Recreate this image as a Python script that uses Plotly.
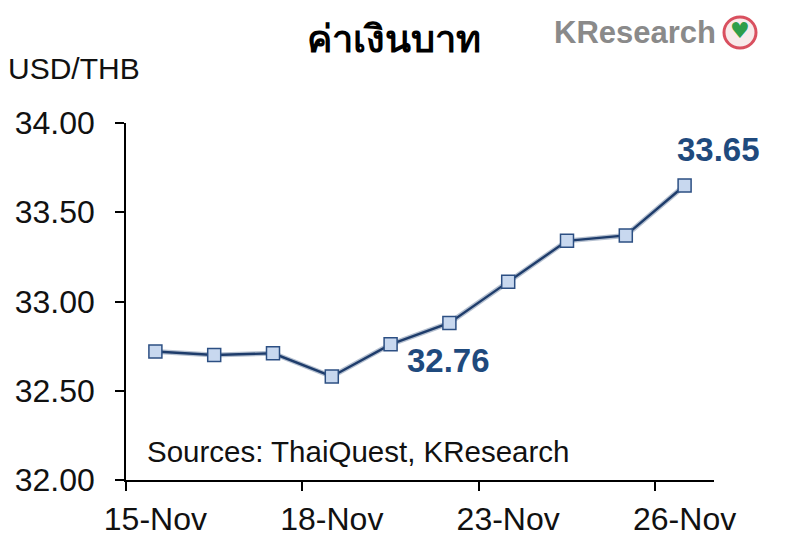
import plotly.graph_objects as go

# ---- data ----
dates = ["15-Nov", "16-Nov", "17-Nov", "18-Nov", "19-Nov",
         "22-Nov", "23-Nov", "24-Nov", "25-Nov", "26-Nov"]
usd_thb = [32.72, 32.70, 32.71, 32.58, 32.76, 32.88, 33.11, 33.34, 33.37, 33.65]
labeled_dates = ["15-Nov", "18-Nov", "23-Nov", "26-Nov"]
callout_dates = ["19-Nov", "26-Nov"]
y_ticks = [32.0, 32.5, 33.0, 33.5, 34.0]

title_text = "ค่าเงินบาท"
unit_text = "USD/THB"
source_text = "Sources: ThaiQuest, KResearch"
logo_text = "KResearch"

NAVY = "#1e3c6b"
FONT = "Liberation Sans, Arial, sans-serif"

x_idx = list(range(len(dates)))
label_idx = [dates.index(d) for d in labeled_dates]


def px(xp):
    return (xp - 126) / 588


def py(yp):
    return 1 + (123 - yp) / 357


fig = go.Figure()
fig.add_trace(go.Scatter(
    x=x_idx, y=usd_thb, mode="lines",
    line=dict(color="rgba(120,140,170,0.55)", width=5),
    hoverinfo="skip", showlegend=False,
))
fig.add_trace(go.Scatter(
    x=x_idx, y=usd_thb, mode="lines+markers",
    line=dict(color=NAVY, width=2.4),
    marker=dict(symbol="square", size=13, color="#c8d8ef",
                line=dict(color="#2c4f83", width=1.5)),
    showlegend=False,
))

shifts = {"19-Nov": (58, -16), "26-Nov": (34, 36)}
for d in callout_dates:
    i = dates.index(d)
    fig.add_annotation(x=i, y=usd_thb[i], text=f"{usd_thb[i]:.2f}",
                       showarrow=False, xshift=shifts[d][0], yshift=shifts[d][1],
                       font=dict(family=FONT, size=33, color="#1f4a7d", weight="bold"))

fig.add_annotation(xref="paper", yref="paper", x=px(145), y=py(451), xanchor="left",
                   yanchor="middle", text=source_text, showarrow=False,
                   font=dict(family=FONT, size=29.5, color="#111111"))

fig.add_annotation(xref="paper", yref="paper", x=px(394), y=py(37),
                   xanchor="center", yanchor="middle", text=f"<b>{title_text}</b>",
                   showarrow=False, font=dict(family="Noto Sans, DejaVu Sans, sans-serif", size=38, color="#000000"))

fig.add_annotation(xref="paper", yref="paper", x=px(6), y=py(68),
                   xanchor="left", yanchor="middle", text=unit_text,
                   showarrow=False, font=dict(family=FONT, size=30, color="#111111"))

fig.add_annotation(xref="paper", yref="paper", x=px(552), y=py(32),
                   xanchor="left", yanchor="middle", text=f"<b>{logo_text}</b>",
                   showarrow=False, font=dict(family=FONT, size=31, color="#8a8a8a"))
fig.add_shape(type="circle", xref="paper", yref="paper",
              x0=px(724), x1=px(756), y0=py(48), y1=py(17),
              line=dict(color="#d9505f", width=3), fillcolor="#f8eaea")
fig.add_annotation(xref="paper", yref="paper", x=px(740), y=py(30),
                   text="♥", showarrow=False, xanchor="center", yanchor="middle",
                   font=dict(family="DejaVu Sans", size=22, color="#2e9e4a"))

fig.update_layout(
    width=800, height=546,
    margin=dict(l=118, r=94, t=115, b=74, autoexpand=False),
    plot_bgcolor="white", paper_bgcolor="white",
    xaxis=dict(
        range=[-0.5, len(dates) - 0.5], automargin=False,
        tickmode="array", tickvals=label_idx, ticktext=labeled_dates,
        ticks="", showgrid=False, zeroline=False,
        showline=True, linecolor="#000000", linewidth=1.5,
        tickfont=dict(family=FONT, size=32, color="#111111"),
        ticklabelstandoff=10,
        minor=dict(tickmode="array", tickvals=[i - 0.5 for i in label_idx],
                   ticks="outside", ticklen=9, tickwidth=1.5, tickcolor="#000000",
                   showgrid=False),
    ),
    yaxis=dict(
        range=[32, 34], automargin=False, tickmode="array", tickvals=y_ticks,
        tickformat=".2f", ticks="outside", ticklen=9, tickwidth=1.5,
        tickcolor="#000000", showgrid=False, zeroline=False,
        showline=True, linecolor="#000000", linewidth=1.5,
        tickfont=dict(family=FONT, size=32, color="#111111"),
        ticklabelstandoff=14,
    ),
)

fig.write_html("out.html")
